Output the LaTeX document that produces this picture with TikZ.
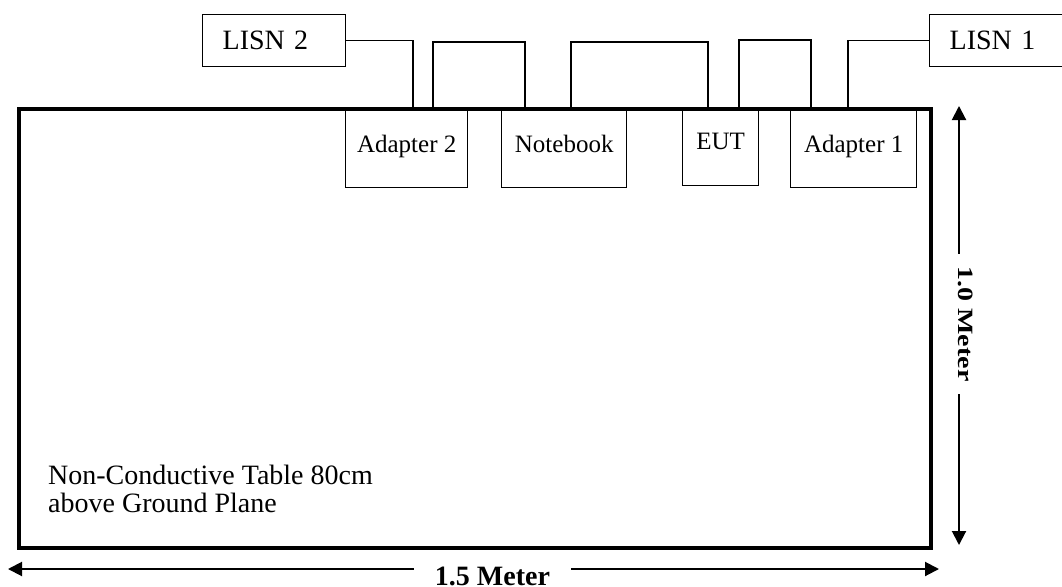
\documentclass[tikz,border=0pt]{standalone}
\usepackage{fontspec}
\usepackage{graphicx}
\setmainfont{Liberation Serif}
\usetikzlibrary{arrows.meta}
\begin{document}
\begin{tikzpicture}[x=1pt,y=-1pt,
 boxlbl/.style={draw, line width=1.4pt, inner sep=0pt, anchor=north west, font=\fontsize{25}{28}\selectfont},
 lisnbox/.style={draw, line width=1.4pt, inner xsep=20pt, inner ysep=0pt, text width=103pt, align=left, text height=35pt, text depth=17pt, anchor=north west, font=\fontsize{28}{30}\selectfont},
 cable/.style={line width=1.3pt},
 tableedge/.style={draw, line width=4pt, inner sep=0pt, anchor=north west},
 dim/.style={line width=2pt, -{Triangle[length=14pt,width=14pt]}},
 dimlbl/.style={font=\fontsize{28}{30}\selectfont\bfseries, inner ysep=0pt, anchor=base},
 tabtxt/.style={font=\fontsize{28}{28}\selectfont, inner sep=0pt, anchor=base west}
]
\useasboundingbox (0,0) rectangle (1062,586);
\clip (0,0) rectangle (1062,586);

% table
\node[tableedge, minimum width=912pt, minimum height=439pt] (table) at (17,107) {};

% devices on the table
\node[boxlbl, minimum width=122pt, text height=45pt, text depth=35pt] (ad2) at (345,107) {Adapter 2};
\node[boxlbl, minimum width=125pt, text height=45pt, text depth=35pt] (nb) at (501,107) {Notebook};
\node[boxlbl, minimum width=76pt, text height=42pt, text depth=36pt] (eut) at (682,107) {EUT};
\node[boxlbl, minimum width=126pt, text height=45pt, text depth=35pt] (ad1) at (790,107) {Adapter 1};

% LISNs
\node[lisnbox] (lisn2) at (202,14) {LISN 2};
\node[lisnbox] (lisn1) at (929,14) {LISN 1};

% cables
\draw[cable] (lisn2.east) -| ([xshift=68pt]ad2.north west);
\draw[cable] ([xshift=88pt]ad2.north west) -- ++(0,-65) -| ([xshift=24pt]nb.north west);
\draw[cable] ([xshift=70pt]nb.north west) -- ++(0,-65) -| ([xshift=26pt]eut.north west);
\draw[cable] ([xshift=57pt]eut.north west) -- ++(0,-67) -| ([xshift=21pt]ad1.north west);
\draw[cable] ([xshift=58pt]ad1.north west) |- (lisn1.west);

% table text
\node[tabtxt] (tt1) at (48,484) {Non-Conductive Table 80cm};
\node[tabtxt] (tt2) at (48,512) {above Ground Plane};

% vertical dimension
\coordinate (vtop) at (959,106);
\coordinate (vbot) at (959,545);
\node[dimlbl, rotate=-90, inner xsep=12.5pt] (vlab) at (958,324) {\scalebox{1}[0.78]{1.0 Meter}};
\draw[dim] (vlab.west -| vtop) -- (vtop);
\draw[dim] (vlab.east -| vbot) -- (vbot);

% horizontal dimension
\coordinate (hleft) at (8,569);
\coordinate (hright) at (939,569);
\node[dimlbl, inner xsep=21pt] (hlab) at (492.5,585) {1.5 Meter};
\draw[dim] (hlab.west |- hleft) -- (hleft);
\draw[dim] (hlab.east |- hright) -- (hright);
\end{tikzpicture}
\end{document}
